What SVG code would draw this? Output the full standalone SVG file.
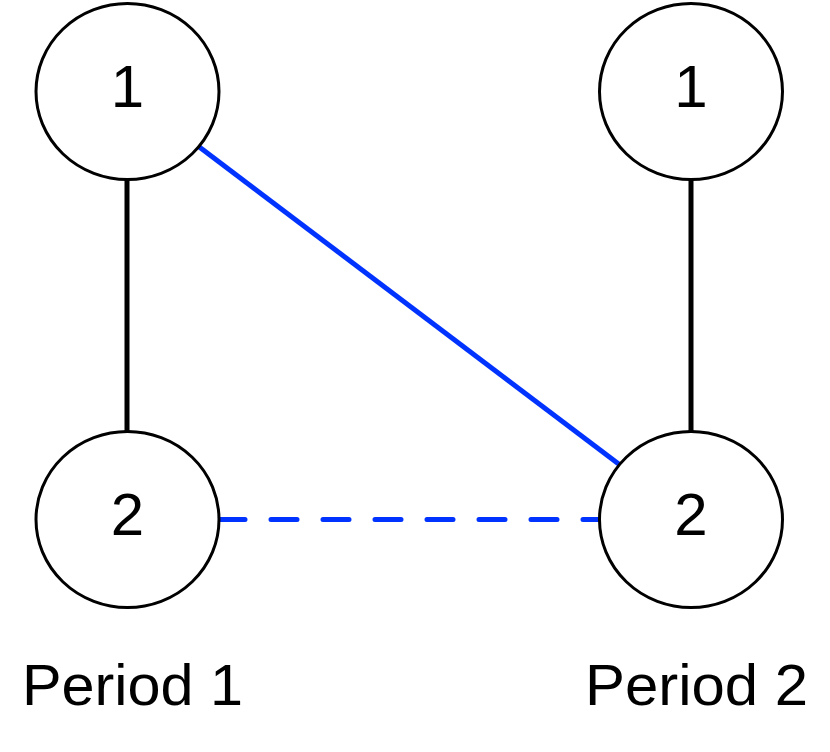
<svg xmlns="http://www.w3.org/2000/svg" width="830" height="752" viewBox="0 0 830 752">
<style>
.node ellipse{fill:#fff;stroke:#000;stroke-width:3}
.node text,.label{font-family:"Liberation Sans",Arial,sans-serif;fill:#000;text-anchor:middle}
.node text{font-size:60px}
.label{font-size:58px}
.edge{stroke-width:5;fill:none}
</style>
<rect width="830" height="752" fill="#fff"/>
<g id="connectors">
<line class="edge" x1="127" y1="178" x2="127" y2="433" stroke="#000"/>
<line class="edge" x1="691" y1="178" x2="691" y2="433" stroke="#000"/>
<line class="edge" x1="198" y1="146" x2="620" y2="465" stroke="#0033ff"/>
<line class="edge" x1="219" y1="519.5" x2="600" y2="519.5" stroke="#0033ff" stroke-width="6" stroke-linecap="round" stroke-dasharray="26 26"/>
</g>
<g id="n1a" class="node"><ellipse cx="127.5" cy="91.5" rx="91.5" ry="88"/><text x="127.5" y="107">1</text></g>
<g id="n2a" class="node"><ellipse cx="127.5" cy="519.5" rx="91.5" ry="88"/><text x="127.5" y="535">2</text></g>
<g id="n1b" class="node"><ellipse cx="691" cy="91.5" rx="91.5" ry="88"/><text x="691" y="107">1</text></g>
<g id="n2b" class="node"><ellipse cx="691" cy="519.5" rx="91.5" ry="88"/><text x="691" y="535">2</text></g>
<text class="label" x="132.5" y="705" textLength="221" lengthAdjust="spacingAndGlyphs">Period 1</text>
<text class="label" x="696.5" y="705" textLength="223" lengthAdjust="spacingAndGlyphs">Period 2</text>
</svg>
